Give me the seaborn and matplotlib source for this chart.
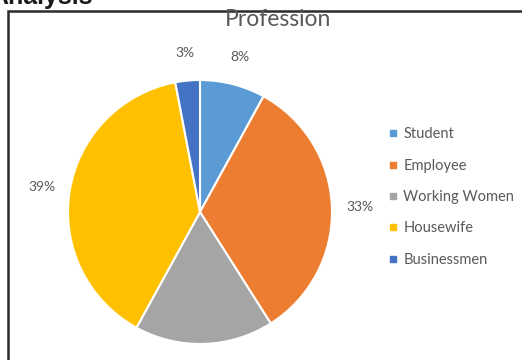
import matplotlib
matplotlib.use("Agg")
import matplotlib.pyplot as plt
from matplotlib.lines import Line2D
from matplotlib.patches import Rectangle
import seaborn as sns

categories = ["Student", "Employee", "Working Women", "Housewife", "Businessmen"]
shares = [8, 33, 17, 39, 3]
colors = ["#5B9BD5", "#ED7D31", "#A5A5A5", "#FFC000", "#4472C4"]

sns.set_theme(style="white")
plt.rcParams["font.family"] = ["Lato", "DejaVu Sans"]

W, H = 522, 360
fig = plt.figure(figsize=(W / 100, H / 100), dpi=100)
fig.patch.set_facecolor("white")

# pie centred at (200, 212) px, radius 132 px
cx, cy, r = 200, 212, 132
ax = fig.add_axes([(cx - r) / W, (H - cy - r) / H, 2 * r / W, 2 * r / H])
wedges, _, pcts = ax.pie(
    shares, colors=colors, startangle=90, counterclock=False,
    autopct="%d%%", pctdistance=1.21, radius=1,
    wedgeprops=dict(edgecolor="white", linewidth=1.5),
    textprops=dict(color="#595959", fontsize=10),
)
ax.set_xlim(-1, 1)
ax.set_ylim(-1, 1)
ax.set_aspect("equal")
ax.axis("off")

fig.text(278 / W, 1 - 20 / H, "Profession", ha="center", va="center",
         fontsize=16.5, color="#595959")

handles = [Line2D([], [], marker="s", linestyle="none", markersize=4.5,
                  markerfacecolor=c, markeredgecolor=c) for c in colors]
fig.legend(handles, categories, loc="upper left",
           bbox_to_anchor=(381.5 / W, 1 - 120 / H), frameon=False,
           fontsize=10.5, labelcolor="#595959", handlelength=0.6,
           handletextpad=0.4, labelspacing=1.19, borderpad=0)

# chart frame (cut off at right and bottom)
fig.add_artist(Rectangle((8 / W, -0.1), 1.2, 1 - 11 / H + 0.1,
                         transform=fig.transFigure, fill=False,
                         edgecolor="#2b2b2b", linewidth=1.8))

fig.text(-10 / W, 1 - 4 / H, "Analysis", ha="left", va="baseline",
         fontsize=18, fontweight="bold", color="#1a1a1a",
         family=["Liberation Sans", "DejaVu Sans"])

fig.savefig("out.png", dpi=100)
